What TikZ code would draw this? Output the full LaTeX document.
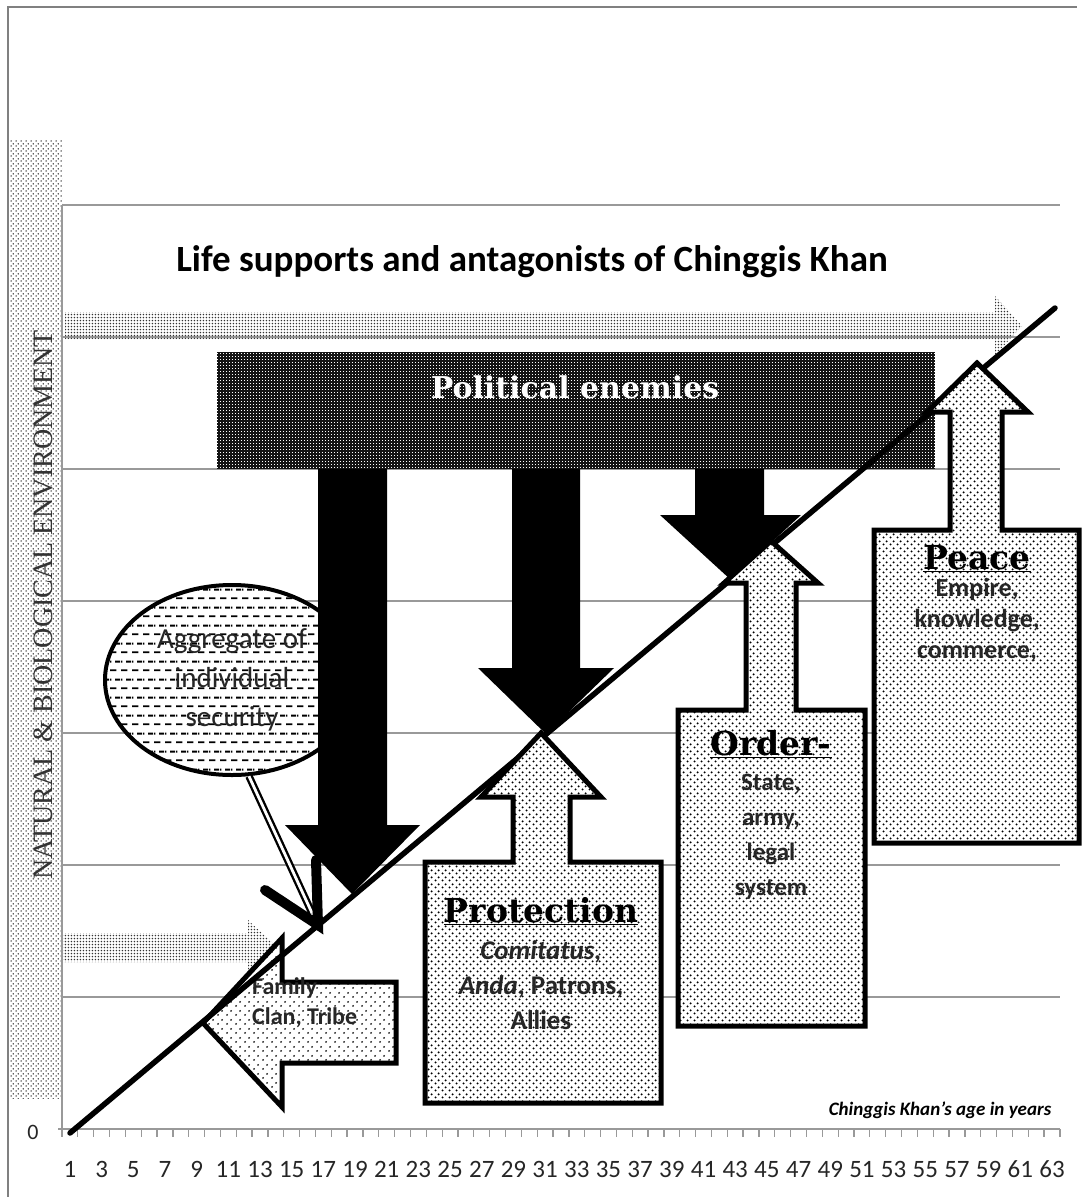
\documentclass[tikz,border=0pt]{standalone}
\usepackage{fontspec}
\setmainfont{Carlito}
\newfontfamily\slab{DejaVu Serif}
\newfontfamily\timesf{Liberation Serif}
\usetikzlibrary{patterns,shapes.geometric}

\pgfdeclarepatternformonly{updots}{\pgfqpoint{0pt}{0pt}}{\pgfqpoint{7pt}{7pt}}{\pgfqpoint{7pt}{7pt}}{%
  \pgfpathcircle{\pgfqpoint{1.75pt}{1.75pt}}{1.2pt}%
  \pgfpathcircle{\pgfqpoint{5.25pt}{5.25pt}}{1.2pt}%
  \pgfusepath{fill}}
\pgfdeclarepatternformonly{bandots}{\pgfqpoint{0pt}{0pt}}{\pgfqpoint{5pt}{5pt}}{\pgfqpoint{5pt}{5pt}}{%
  \pgfpathcircle{\pgfqpoint{1.25pt}{1.25pt}}{0.9pt}%
  \pgfpathcircle{\pgfqpoint{3.75pt}{3.75pt}}{0.9pt}%
  \pgfusepath{fill}}
\pgfdeclarepatternformonly{graydots}{\pgfqpoint{0pt}{0pt}}{\pgfqpoint{3.4pt}{3.4pt}}{\pgfqpoint{3.4pt}{3.4pt}}{%
  \pgfpathcircle{\pgfqpoint{1.7pt}{1.7pt}}{0.95pt}%
  \pgfusepath{fill}}
\pgfdeclarepatternformonly{wchk}{\pgfqpoint{0pt}{0pt}}{\pgfqpoint{3.2pt}{3.2pt}}{\pgfqpoint{3.2pt}{3.2pt}}{%
  \pgfpathrectangle{\pgfqpoint{0pt}{0pt}}{\pgfqpoint{1.2pt}{1.2pt}}%
  \pgfusepath{fill}}
\pgfdeclarepatternformonly{hdash}{\pgfqpoint{0pt}{0pt}}{\pgfqpoint{11pt}{18pt}}{\pgfqpoint{11pt}{18pt}}{%
  \pgfpathrectangle{\pgfqpoint{0pt}{4pt}}{\pgfqpoint{7pt}{2pt}}%
  \pgfpathrectangle{\pgfqpoint{5.5pt}{13pt}}{\pgfqpoint{5.5pt}{2pt}}%
  \pgfpathrectangle{\pgfqpoint{0pt}{13pt}}{\pgfqpoint{1.5pt}{2pt}}%
  \pgfusepath{fill}}
\pgfdeclarepatternformonly{famdots}{\pgfqpoint{0pt}{0pt}}{\pgfqpoint{9pt}{9pt}}{\pgfqpoint{9pt}{9pt}}{%
  \pgfpathcircle{\pgfqpoint{2.25pt}{2.25pt}}{1.1pt}%
  \pgfpathcircle{\pgfqpoint{6.75pt}{6.75pt}}{1.1pt}%
  \pgfusepath{fill}}

\tikzset{
  gridln/.style={draw=black!40, line width=1.3pt},
  frameln/.style={draw=black!50, line width=1.5pt},
  uparr/.style={draw=black, line width=5pt, line join=miter, preaction={fill=white}, pattern=updots},
  famarr/.style={draw=black, line width=5pt, line join=miter, preaction={fill=white}, pattern=famdots},
  dotarr/.style={pattern=graydots, pattern color=black!80},
  blackarr/.style={fill=black},
  lbl/.style={font=\fontsize{25}{28}\selectfont, text=black!85, inner sep=0pt},
  heading/.style={font=\slab\bfseries\fontsize{33}{38}\selectfont, inner sep=1pt},
  subtxt/.style={align=center, inner sep=0pt, text=black!85},
}

\begin{document}
\begin{tikzpicture}[x=1pt,y=-1pt]
\useasboundingbox (0,0) rectangle (1085,1197);

% frame and band
\path[pattern=bandots, pattern color=black!85] (8,140) rectangle (62,1098);
\draw[frameln] (8,1197) -- (8,7) -- (1077,7);

% grid
\foreach \yy in {205,337,469,601,733,865,997}
  \draw[gridln] (62,\yy) -- (1060,\yy);
\draw[gridln] (62,205) -- (62,1135);
\draw[gridln] (58,1129) -- (1060,1129);
\foreach \k in {0,...,63}
  \draw[gridln] ({62+\k*15.84},1129) -- ++(0,8);
\foreach \n in {1,3,...,63}
  \node[lbl, anchor=base] (xl\n) at ({62+(\n-0.5)*15.84},1177) {\n};
\node[lbl, font=\fontsize{22}{24}\selectfont] (zero) at (33,1132) {0};

% band text
\node[rotate=90, text=black!80, inner sep=0pt] (envtext) at (43,605)
  {\timesf\fontsize{28}{32}\selectfont NATURAL \& BIOLOGICAL ENVIRONMENT};

% title
\node[inner sep=0pt] (title) at (532,262)
  {\bfseries\fontsize{37}{42}\selectfont Life supports and antagonists of Chinggis Khan};

% dotted horizontal arrows
\path[dotarr] (65,312) -- (995,312) -- (995,296) -- (1022,326) -- (995,355) -- (995,339) -- (65,339) -- cycle;
\path[dotarr] (63,933) -- (248,933) -- (248,920) -- (277,947) -- (248,975) -- (248,962) -- (63,962) -- cycle;

% political enemies banner
\path[fill=black!92, postaction={pattern=wchk, pattern color=white}] (217,352) rectangle (935,469);
\node[text=white, inner sep=0pt] (polit) at (575,387)
  {\slab\bfseries\fontsize{30}{34}\selectfont Political enemies};

% ellipse
\node[ellipse, draw=black, line width=4pt, minimum width=254, minimum height=190,
      preaction={fill=white}, pattern=hdash, align=center, text=black!85,
      font=\fontsize{29}{39}\selectfont] (ell) at (232,680)
  {Aggregate of\\individual\\security};

% black down arrows
\path[blackarr] (318,469) -- (387,469) -- (387,825) -- (420,825) -- (352,894) -- (285,825) -- (318,825) -- cycle;
\path[blackarr] (512,469) -- (580,469) -- (580,668) -- (614,668) -- (546,734) -- (478,668) -- (512,668) -- cycle;
\path[blackarr] (695,469) -- (764,469) -- (764,515) -- (801,515) -- (731,580) -- (660,515) -- (695,515) -- cycle;

% family arrow
\path[famarr] (203,1023) -- (282,938) -- (282,982) -- (396,982) -- (396,1063) -- (282,1063) -- (282,1107) -- cycle;
\node[font=\bfseries\fontsize{24}{30}\selectfont, align=left, anchor=west, inner sep=0pt, text=black!85] (fam) at (252,1003)
  {Family\\Clan, Tribe};

% diagonal line
\coordinate (l0) at (70,1133);
\coordinate (l1) at (1055,308);
\draw[line width=5.5pt, line cap=round] (l0) -- (l1);

% protection
\path[uparr] (541,733) -- (601,797) -- (570,797) -- (570,862) -- (661,862) -- (661,1103)
  -- (425,1103) -- (425,862) -- (513,862) -- (513,797) -- (481,797) -- cycle;
\node[heading] (protT) at (541,911) {\underline{Protection}};
\node[subtxt, font=\bfseries\fontsize{27}{35}\selectfont] (protS) at (541,985)
  {\textit{Comitatus,}\\\textit{Anda}, Patrons,\\Allies};

% order
\path[uparr] (771,541) -- (818,583) -- (796,583) -- (796,710) -- (865,710) -- (865,1026)
  -- (678,1026) -- (678,710) -- (746,710) -- (746,583) -- (724,583) -- cycle;
\node[heading] (ordT) at (771,744) {\underline{Order-}};
\node[subtxt, font=\bfseries\fontsize{25}{35}\selectfont] (ordS) at (771,837)
  {State,\\army,\\legal\\system};

% peace
\path[uparr] (977,363) -- (1028,412) -- (1002,412) -- (1002,530) -- (1079,530) -- (1079,843)
  -- (874,843) -- (874,530) -- (950,530) -- (950,412) -- (927,412) -- cycle;
\node[heading] (peaT) at (977,559) {\underline{Peace}};
\node[subtxt, font=\bfseries\fontsize{26}{31}\selectfont] (peaS) at (977,620)
  {Empire,\\knowledge,\\commerce,};

% double connector from ellipse
\coordinate (vtip) at (318,925);
\coordinate (dend) at (312,913);
\draw[line width=7.5pt] (ell.-80) -- (dend);
\draw[line width=2.8pt, white] (ell.-80) -- (dend);
\draw[line width=10pt, line cap=round, line join=miter] (265,890) -- (vtip) -- (316,860);

% axis title
\node[inner sep=0pt] (agelbl) at (940,1110)
  {\bfseries\itshape\fontsize{19}{22}\selectfont Chinggis Khan's age in years};
\end{tikzpicture}
\end{document}
